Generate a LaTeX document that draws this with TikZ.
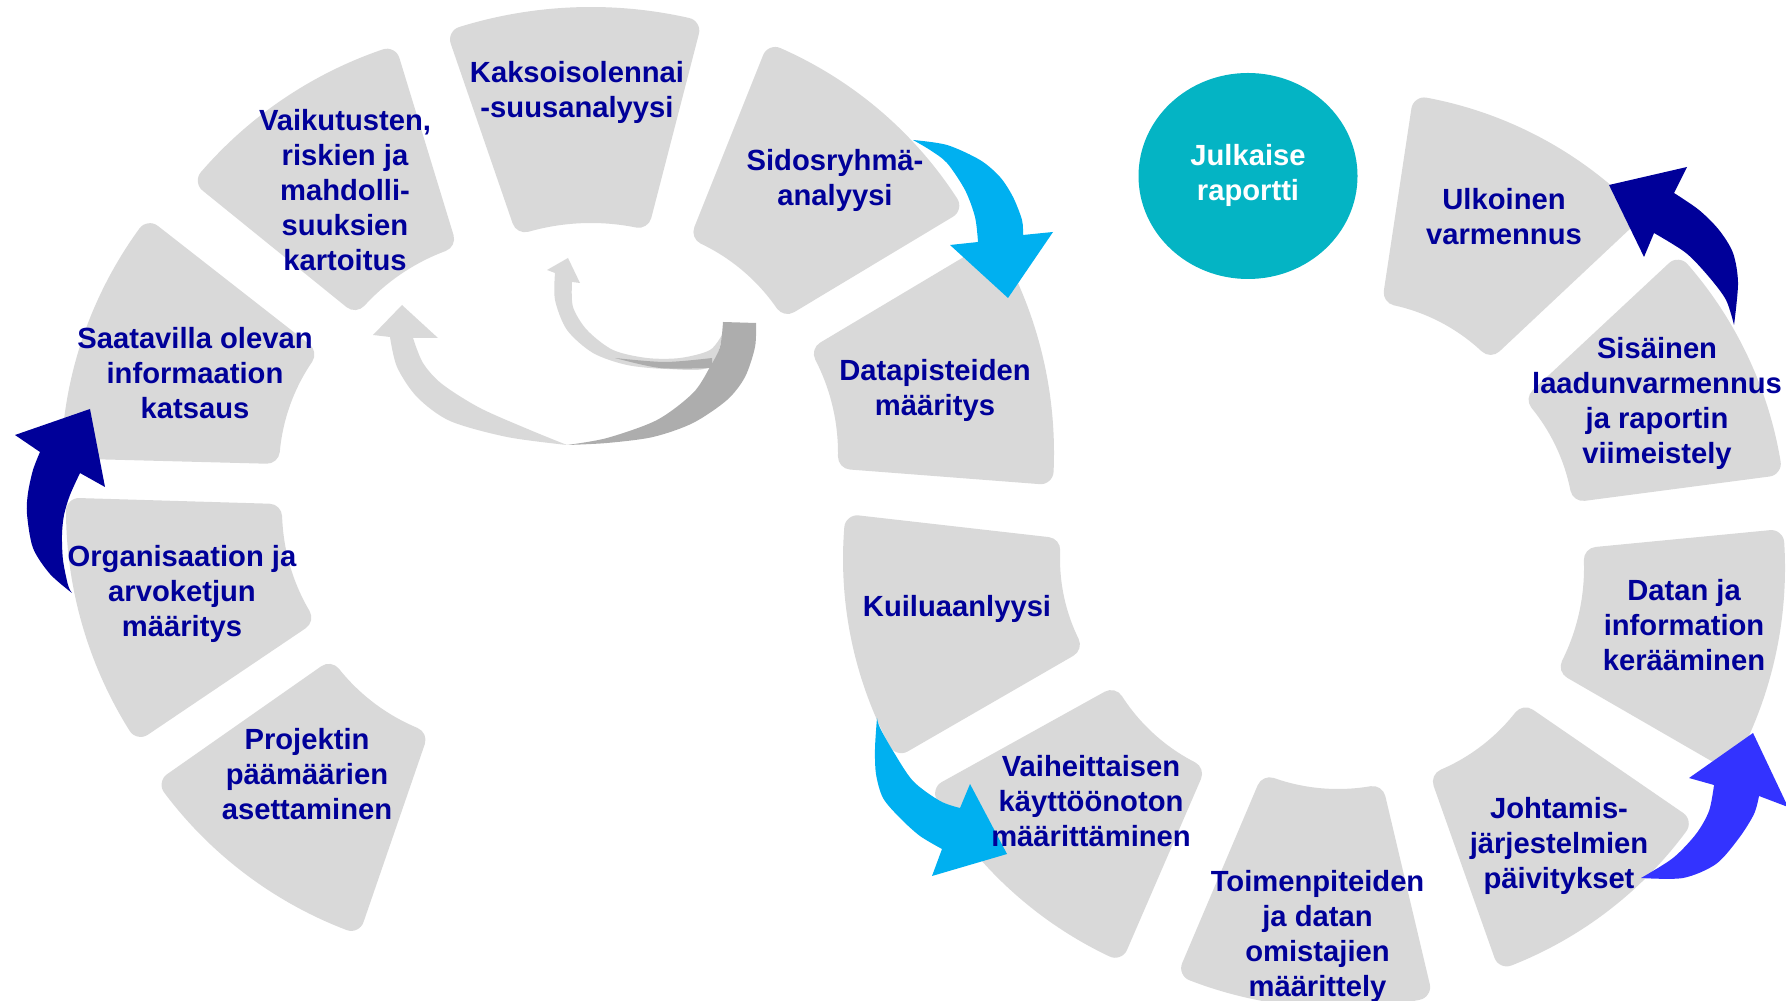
\documentclass[tikz,border=0pt]{standalone}
\usepackage{fontspec}
\setmainfont{Liberation Sans}
\usepackage{tikz}

\definecolor{segfill}{HTML}{D9D9D9}
\definecolor{darkgrey}{HTML}{ADADAD}
\definecolor{navytext}{HTML}{000099}
\definecolor{cyanarrow}{HTML}{00B0F0}
\definecolor{bluearrow}{HTML}{3333FF}
\definecolor{tealcircle}{HTML}{04B4C4}

\def\rw{13}
\newcommand{\ringpiece}[6]{%
  \pgfmathsetmacro{\pcRo}{#6-\rw}%
  \pgfmathsetmacro{\pcRi}{#5+\rw}%
  \pgfmathsetmacro{\pcAo}{asin(\rw/\pcRo)}%
  \pgfmathsetmacro{\pcAi}{asin(\rw/\pcRi)}%
  \pgfmathsetmacro{\pcA}{-(#3+\pcAo)}%
  \pgfmathsetmacro{\pcB}{-(#4-\pcAo)}%
  \pgfmathsetmacro{\pcC}{-(#4-\pcAi)}%
  \pgfmathsetmacro{\pcD}{-(#3+\pcAi)}%
  \filldraw[piece] ([shift={(#1,#2)}]{\pcA}:{\pcRo}) arc[start angle=\pcA,end angle=\pcB,radius=\pcRo]
    -- ([shift={(#1,#2)}]{\pcC}:{\pcRi}) arc[start angle=\pcC,end angle=\pcD,radius=\pcRi] -- cycle;
}

\begin{document}
\begin{tikzpicture}[x=0.01cm,y=-0.01cm]
\tikzstyle{piece}=[fill=segfill,draw=segfill,line width=0.26cm,line join=round]
\tikzstyle{steptext}=[text=navytext,font=\fontsize{8.3}{9.96}\selectfont\bfseries,align=center,inner sep=0pt]
\useasboundingbox (0,0) rectangle (1786,1001);
\clip (0,0) rectangle (1786,1001);

\ringpiece{493}{546}{215}{251}{197}{411}
\ringpiece{481}{510}{178.3}{214}{199}{415}
\ringpiece{469}{469}{142}{178.5}{190}{408}
\ringpiece{518}{446}{107}{141}{208}{419}
\ringpiece{591}{451}{75.5}{109}{228}{444}
\ringpiece{618}{418}{31}{68.2}{193}{404}
\ringpiece{635}{453}{-4.4}{30.8}{203}{419}
\ringpiece{1241}{559}{173.5}{210}{181}{398}
\ringpiece{1281}{594}{209}{246.6}{189}{401}
\ringpiece{1338}{596}{247}{283.3}{193}{412}
\ringpiece{1366}{595}{-70.5}{-34.5}{190}{398}
\ringpiece{1377}{568}{-30}{5.5}{207}{408}
\ringpiece{1386}{527}{7.5}{43}{188}{400}
\ringpiece{1354}{488}{43.2}{81.4}{187}{397}

\fill[tealcircle] (1248,176) ellipse [x radius=109.5,y radius=103];

\fill[segfill] plot[smooth] coordinates {(567,445) (507,437) (450,421) (417,397) (397,367) (390,337)}
  -- (373,335) -- (402,305) -- (438,338) -- (413,338)
  -- plot[smooth] coordinates {(413,338) (423,363) (442,384) (480,408) (530,430) (567,445)} -- cycle;
\fill[segfill] (555,273) -- (547,270) -- (568,258) -- (580,283) -- (572,282)
  -- plot[smooth] coordinates {(572,282) (573,307) (587,330) (613,350) (647,358) (680,358) (710,350) (723,333)}
  -- plot[smooth] coordinates {(723,333) (710,367) (667,369) (627,365) (593,353) (567,330) (555,300) (555,273)} -- cycle;
\fill[darkgrey] plot[smooth] coordinates {(615,358) (660,368) (712,368)}
  -- plot[smooth] coordinates {(712,358) (665,362) (615,358)} -- cycle;
\fill[darkgrey] (723,322) -- plot[smooth] coordinates {(756,323) (755,347) (745,377) (727,400) (693,423) (653,437) (607,443) (567,445)}
  -- plot[smooth] coordinates {(567,445) (607,438) (657,420) (693,393) (710,367) (720,347) (723,322)} -- cycle;

\fill[cyanarrow] plot[smooth] coordinates {(913,140) (947,145) (980,160) (1000,177) (1013,197) (1022,220) (1023,235)}
  -- (1053,232) -- (1008,298) -- (950,245) -- (978,242)
  -- plot[smooth] coordinates {(978,242) (975,217) (965,190) (947,163) (930,150) (913,140)} -- cycle;
\fill[cyanarrow] plot[smooth] coordinates {(877,718) (875,748) (876,774) (883,798) (900,818) (920,836) (942,849)}
  -- (932,876) -- (1007,854) -- (970,784) -- (960,808)
  -- plot[smooth] coordinates {(960,808) (940,801) (913,781) (893,751) (880,728) (877,718)} -- cycle;
\fill[navytext] plot[smooth] coordinates {(72,593) (50,574) (33,548) (27,514) (28,493) (33,470) (40,452)}
  -- (15,435) -- (90,409) -- (105,487) -- (80,473)
  -- plot[smooth] coordinates {(80,473) (70,495) (64,515) (62,535) (63,560) (68,585) (72,593)} -- cycle;
\fill[navytext] plot[smooth] coordinates {(1734,325) (1738,283) (1733,253) (1719,230) (1699,210) (1674,193)}
  -- (1687,167) -- (1609,185) -- (1644,257) -- (1654,233)
  -- plot[smooth] coordinates {(1654,233) (1686,253) (1709,277) (1726,300) (1734,325)} -- cycle;
\fill[bluearrow] plot[smooth] coordinates {(1641,878) (1683,878) (1716,864) (1739,838) (1754,814) (1759,796)}
  -- (1788,807) -- (1753,733) -- (1689,778) -- (1714,785)
  -- plot[smooth] coordinates {(1714,785) (1709,811) (1696,834) (1673,858) (1641,878)} -- cycle;

\node[steptext] (1) at (307,774.5) {Projektin\\päämäärien\\asettaminen};
\node[steptext] (2) at (182,593.5) {Organisaation ja\\arvoketjun\\määritys};
\node[steptext] (3) at (195,373) {Saatavilla olevan\\informaation\\katsaus};
\node[steptext] (4) at (345,190.5) {Vaikutusten,\\riskien ja\\mahdolli-\\suuksien\\kartoitus};
\node[steptext] (5) at (577,92) {Kaksoisolennai\\-suusanalyysi};
\node[steptext] (6) at (835,180) {Sidosryhmä-\\analyysi};
\node[steptext] (7) at (935,390) {Datapisteiden\\määritys};
\node[steptext] (8) at (957,608.5) {Kuiluaanlyysi};
\node[steptext] (9) at (1091,801.5) {Vaiheittaisen\\käyttöönoton\\määrittäminen};
\node[steptext] (10) at (1317.5,936) {Toimenpiteiden\\ja datan\\omistajien\\määrittely};
\node[steptext] (11) at (1559,845.5) {Johtamis-\\järjestelmien\\päivitykset};
\node[steptext] (12) at (1684,625.5) {Datan ja\\information\\kerääminen};
\node[steptext] (13) at (1657,403) {Sisäinen\\laadunvarmennus\\ja raportin\\viimeistely};
\node[steptext] (14) at (1504,217) {Ulkoinen\\varmennus};
\node[steptext,text=white] (15) at (1248,175.5) {Julkaise\\raportti};
\end{tikzpicture}
\end{document}
